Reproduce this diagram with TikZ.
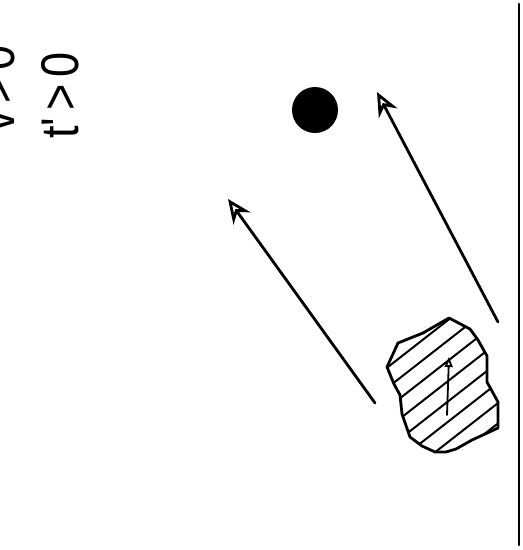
\documentclass[tikz,border=0pt]{standalone}
\usepackage{fontspec}
\usepackage{graphicx}
\newfontfamily\labelfont[Ligatures=TeXOff]{Liberation Sans}
\usetikzlibrary{arrows.meta,calc}

\begin{document}
\begin{tikzpicture}[x=1pt, y=-1pt, line join=round, line cap=round,
    ray/.style={line width=2.8pt, -{Stealth[open, length=24pt, width=21pt, inset=8pt]}},
    hatch/.style={line width=2pt},
    lab/.style={rotate=90, anchor=base west, inner sep=0pt,
      font=\labelfont\fontsize{53}{53}\selectfont}]
    \useasboundingbox (0,0) rectangle (523,550);
    % labels
    \node[lab] (vpos) at (14,133) {\scalebox{0.85}[1]{v\kern0.15em>\kern0.15em0}};
    \node[lab] (tpos) at (78,139) {\scalebox{0.85}[1]{t'\kern0.15em>\kern0.15em0}};
    % screen
    \coordinate (scrtop) at (519,4);
    \coordinate (scrbot) at (519,545);
    \draw[line width=2.8pt] (scrtop) -- (scrbot);
    % ball
    \node[circle, fill, inner sep=0pt, minimum size=46pt] (ball) at (315,110) {};
    % rays
    \coordinate (src1) at (498,322);
    \coordinate (tip1) at (377,92);
    \coordinate (src2) at (375,403);
    \coordinate (tip2) at (228,199);
    \draw[ray] (src1) -- (tip1);
    \draw[ray] (src2) -- (tip2);
    % hatched blob
    \begin{scope}
      \clip (449,318) -- (470,329) -- (478,340) -- (487,356) -- (487,382) -- (498,402)
        -- (498,428) -- (472,440) -- (456,449) -- (446,452) -- (435,452) -- (422,446)
        -- (410,437) -- (402,414) -- (400,395) -- (394,384) -- (387,367) -- (398,343)
        -- (423,333) -- cycle;
      \foreach \k in {-6,...,6}
        \draw[hatch] ($(443,385)+\k*(9.9,12.6)$) ++(142:130) -- ++(-38:260);
    \end{scope}
    \draw[line width=2.8pt] (449,318) -- (470,329) -- (478,340) -- (487,356) -- (487,382) -- (498,402)
        -- (498,428) -- (472,440) -- (456,449) -- (446,452) -- (435,452) -- (422,446)
        -- (410,437) -- (402,414) -- (400,395) -- (394,384) -- (387,367) -- (398,343)
        -- (423,333) -- cycle;
    % spin arrow
    \coordinate (spintail) at (447,415);
    \coordinate (spinhead) at (449,357);
    \draw[line width=1.8pt, -{Triangle[fill=white, length=10pt, width=8pt]}] (spintail) -- (spinhead);
\end{tikzpicture}
\end{document}
